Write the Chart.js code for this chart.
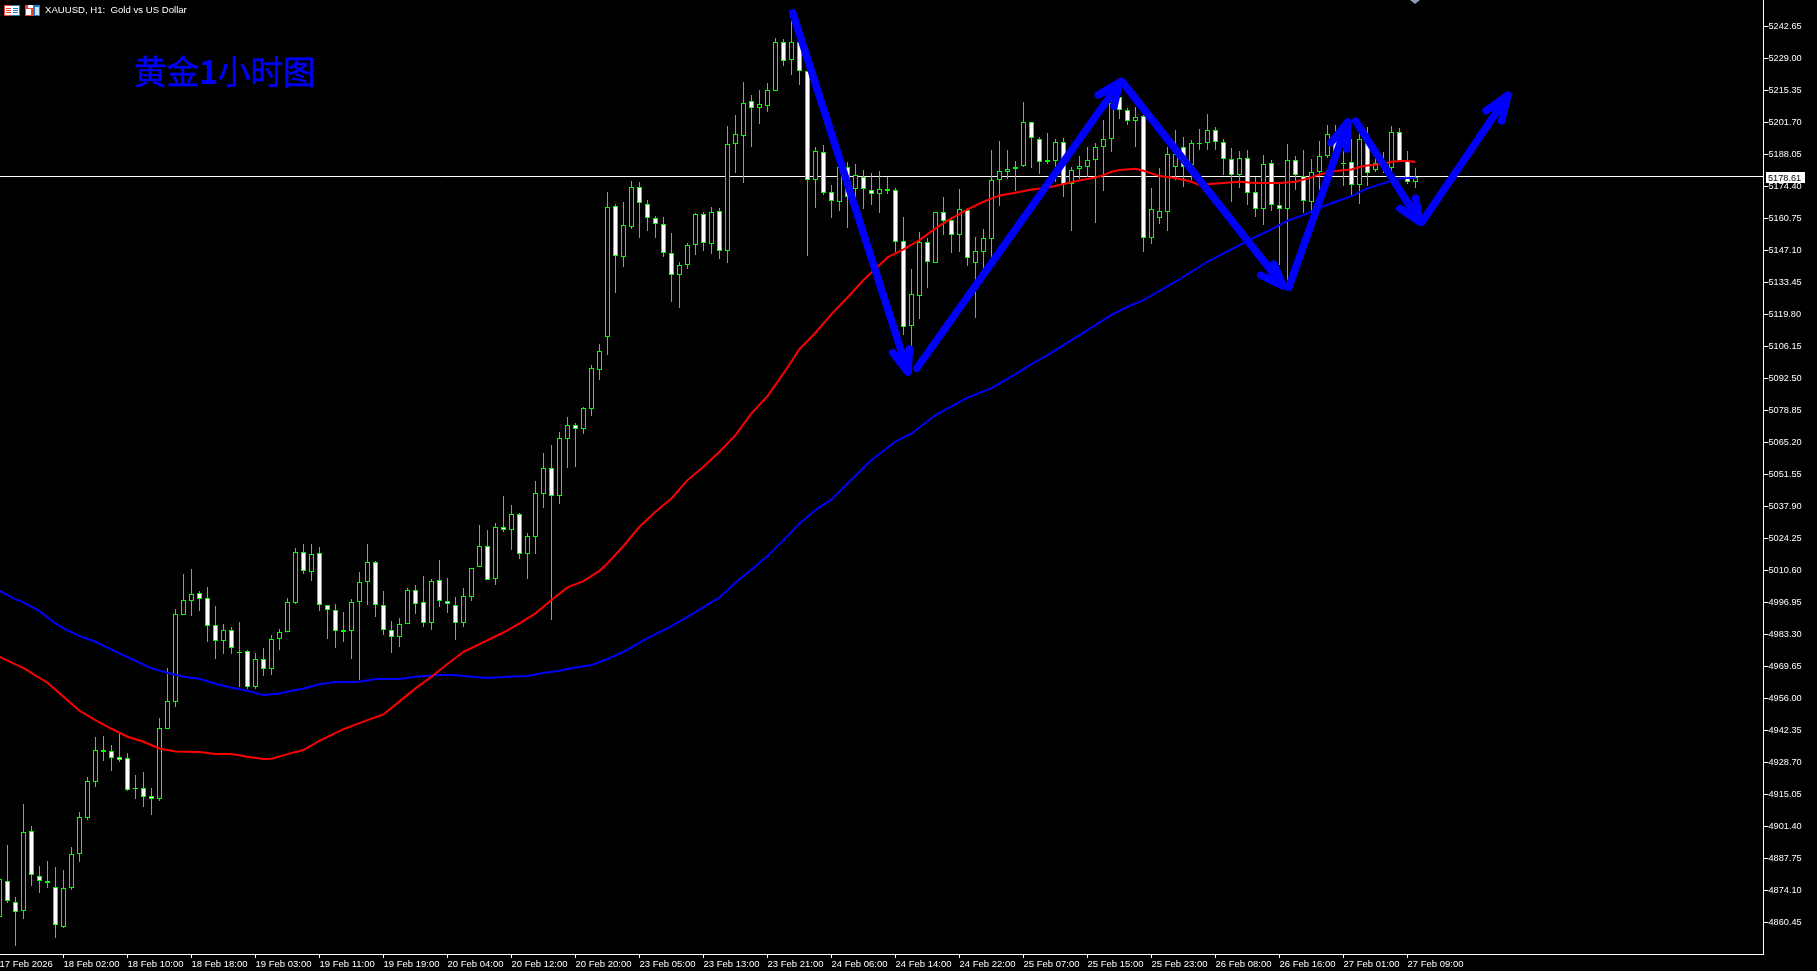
<!DOCTYPE html>
<html>
<head>
<meta charset="utf-8">
<title>XAUUSD H1</title>
<style>
  html, body { margin: 0; padding: 0; background: #000; overflow: hidden; }
  canvas { display: block; }
</style>
<script src="https://cdn.jsdelivr.net/npm/chart.js@4"></script>
</head>
<body>
<canvas id="myChart" width="1817" height="971"></canvas>
<script>
// hourly bars. bar number = position along the x axis
const opens = [
  4862.85,4878.20,4869.24,4865.12,4899.25,4880.33,4878.06,4875.64,4858.58,4875.22,
  4889.72,4905.08,4920.43,4933.80,4933.37,4930.81,4930.39,4917.59,4917.59,4914.18,
  4913.18,4943.04,4954.56,4991.67,4997.64,5000.77,4998.64,4987.12,4980.58,4984.99,
  4975.89,4976.03,4960.96,4972.62,4968.35,4981.43,4984.13,4996.79,5018.26,5010.01,
  5017.84,4995.66,4993.53,4984.99,4984.57,4996.94,5005.47,5014.00,4995.66,4984.99,
  4982.01,4987.55,5002.06,4996.94,4987.98,5006.32,4997.36,4995.66,4987.98,4999.35,
  5011.87,5020.83,5006.75,5028.93,5027.65,5034.48,5017.41,5024.94,5043.28,5054.09,
  5042.43,5066.74,5072.43,5071.01,5079.54,5096.18,5109.97,5165.85,5144.38,5157.18,
  5173.95,5166.70,5160.73,5158.17,5145.80,5136.70,5140.97,5149.21,5162.44,5149.92,
  5163.72,5146.66,5192.30,5195.72,5210.65,5207.66,5208.51,5214.91,5235.81,5228.42,
  5235.81,5223.73,5177.23,5189.17,5171.83,5167.56,5182.49,5173.39,5178.23,5172.68,
  5171.26,5172.54,5172.68,5150.92,5114.95,5127.75,5150.50,5141.82,5163.29,5159.88,
  5153.77,5164.15,5141.82,5146.52,5152.06,5176.95,5180.64,5181.63,5183.05,5201.68,
  5194.43,5184.62,5185.33,5193.15,5175.23,5181.63,5182.49,5185.47,5191.02,5194.43,
  5212.35,5206.80,5202.11,5204.24,5152.20,5160.73,5163.29,5182.49,5191.02,5183.62,
  5192.72,5192.73,5198.28,5193.16,5185.90,5179.36,5186.33,5171.83,5164.58,5184.20,
  5166.28,5164.58,5185.48,5178.94,5167.56,5180.36,5187.18,5196.57,5184.34,5184.62,
  5174.96,5194.15,5181.35,5182.07,5182.07,5197.42,5185.05,5176.09
];
const closes = [
  4878.77,4869.39,4864.69,4898.82,4880.48,4877.92,4877.35,4859.15,4874.93,4889.43,
  4905.22,4920.57,4933.80,4933.23,4930.67,4929.82,4917.02,4917.45,4914.03,4913.18,
  4943.18,4954.70,4991.81,4997.78,5000.34,4998.49,4986.98,4980.29,4984.99,4977.31,
  4975.46,4960.96,4972.62,4968.35,4981.15,4984.13,4996.93,5018.26,5010.15,5017.41,
  4995.66,4993.53,4984.57,4984.42,4996.94,5005.47,5014.00,4995.66,4984.99,4982.01,
  4987.55,5002.06,4996.08,4987.98,5005.90,4997.36,4996.08,4987.98,4999.50,5011.44,
  5020.83,5006.32,5028.93,5027.65,5034.48,5017.41,5025.09,5043.42,5054.09,5042.43,
  5066.89,5072.43,5071.01,5079.68,5096.75,5104.00,5165.42,5144.52,5157.75,5173.95,
  5167.13,5160.73,5158.17,5145.80,5136.42,5140.68,5149.21,5162.44,5150.07,5163.29,
  5146.65,5192.30,5196.57,5209.79,5207.66,5209.37,5215.34,5235.81,5227.71,5235.81,
  5223.73,5176.95,5189.60,5171.68,5168.27,5182.49,5169.98,5179.08,5173.39,5171.26,
  5173.11,5173.11,5150.78,5114.52,5128.32,5150.50,5141.97,5163.29,5159.74,5153.77,
  5164.57,5143.67,5146.66,5152.20,5176.95,5180.78,5181.63,5182.49,5201.68,5194.86,
  5184.62,5185.47,5193.15,5175.38,5181.21,5182.91,5185.47,5191.02,5194.43,5209.79,
  5206.80,5202.11,5203.81,5152.20,5164.57,5163.72,5188.03,5188.17,5182.77,5192.72,
  5192.58,5198.28,5193.16,5185.90,5179.36,5186.33,5171.40,5164.58,5183.77,5166.28,
  5164.58,5185.48,5179.08,5167.99,5180.36,5187.18,5196.57,5189.17,5184.06,5174.81,
  5194.44,5179.93,5184.20,5184.91,5197.42,5185.19,5176.09,5178.61
];
const highs = [
  4881.30,4893.42,4871.09,4910.91,4901.52,4884.46,4886.59,4884.03,4882.75,4892.56,
  4907.49,4922.42,4939.63,4940.05,4936.07,4940.91,4932.52,4923.28,4924.56,4917.73,
  4947.59,4968.92,4993.94,5009.02,5011.15,5001.76,5003.47,4995.51,4987.69,4986.27,
  4988.54,4976.46,4975.32,4977.45,4983.00,4985.56,4998.78,5019.97,5021.81,5021.81,
  5020.54,4995.80,4996.23,4992.81,4998.36,5009.88,5021.82,5014.57,5001.77,4988.98,
  4990.25,5002.91,5004.33,5008.17,5006.89,5015.00,5007.32,4999.21,5003.05,5011.44,
  5029.93,5027.79,5030.78,5042.30,5038.46,5034.90,5026.37,5048.69,5060.63,5064.04,
  5069.59,5075.99,5073.28,5080.25,5098.17,5107.13,5171.96,5166.85,5167.70,5176.66,
  5176.23,5168.55,5161.73,5161.30,5154.47,5142.10,5150.21,5163.01,5163.43,5165.57,
  5165.00,5200.12,5204.82,5218.89,5213.35,5215.48,5218.32,5237.66,5237.24,5244.91,
  5240.00,5224.50,5191.16,5192.02,5174.95,5182.49,5184.77,5183.91,5181.35,5180.07,
  5180.78,5178.51,5173.53,5161.30,5139.12,5154.91,5152.20,5163.44,5169.84,5161.45,
  5173.25,5165.00,5152.77,5156.19,5189.88,5193.72,5189.88,5185.19,5210.36,5201.82,
  5195.43,5197.13,5194.57,5195.00,5182.49,5187.32,5191.16,5192.87,5202.68,5211.00,
  5215.05,5207.65,5208.22,5204.67,5173.67,5182.20,5191.16,5198.41,5195.43,5194.00,
  5198.84,5205.24,5199.70,5194.44,5190.60,5189.46,5189.89,5178.51,5187.61,5185.62,
  5175.67,5192.45,5187.33,5189.89,5186.05,5193.72,5200.55,5200.55,5194.44,5194.44,
  5198.42,5199.70,5189.46,5189.03,5200.12,5199.27,5189.46,5182.07
];
const lows = [
  4861.40,4868.82,4850.47,4861.99,4876.07,4873.08,4875.22,4853.89,4858.15,4874.36,
  4886.31,4904.22,4918.16,4929.39,4925.12,4928.96,4916.59,4913.04,4909.63,4906.36,
  4912.33,4943.04,4952.42,4991.67,4991.10,4993.38,4980.15,4972.90,4975.03,4975.03,
  4960.67,4960.10,4960.10,4965.65,4966.08,4976.74,4984.13,4996.36,5009.16,5006.17,
  4993.38,4981.30,4977.60,4980.02,4972.91,4963.81,4995.80,4990.82,4983.15,4975.47,
  4978.03,4987.55,4991.96,4986.56,4985.28,4995.09,4992.39,4980.87,4986.42,4997.51,
  5011.87,5006.32,5004.33,5026.94,5019.26,5015.42,5006.89,5017.55,5037.17,4989.40,
  5038.87,5054.23,5054.80,5068.73,5076.41,5091.77,5102.43,5128.88,5139.97,5156.18,
  5152.34,5155.33,5152.34,5144.24,5125.04,5122.48,5139.12,5145.09,5146.80,5145.52,
  5143.38,5141.68,5180.07,5175.80,5191.17,5200.98,5206.10,5214.91,5225.72,5222.02,
  5217.75,5144.81,5165.29,5170.83,5161.02,5164.01,5156.75,5169.55,5164.86,5166.57,
  5163.15,5171.26,5146.23,5111.11,5105.99,5117.79,5131.02,5141.54,5153.63,5146.09,
  5146.52,5140.40,5118.36,5138.98,5143.67,5166.00,5177.51,5172.39,5182.63,5182.20,
  5179.64,5183.91,5176.23,5169.83,5155.33,5177.37,5178.22,5158.74,5172.39,5189.03,
  5203.10,5200.54,5191.16,5146.37,5149.78,5158.31,5155.33,5177.08,5174.10,5177.08,
  5189.88,5189.89,5189.89,5179.22,5167.85,5173.68,5166.42,5161.31,5157.89,5163.87,
  5140.83,5133.44,5172.82,5163.01,5162.16,5172.82,5186.33,5184.91,5174.67,5169.84,
  5166.85,5174.53,5180.36,5179.93,5177.09,5185.05,5175.38,5173.68
];

// moving averages, [bar, price]
const redAverage = [
  [0,4973.75],[3,4968.92],[6,4962.66],[8,4956.69],[10,4950.72],[12,4946.74],[14,4943.04],[16,4939.63],
  [18,4937.50],[20,4934.65],[22,4933.37],[25,4933.09],[27,4932.23],[29,4932.23],[31,4931.10],[33,4930.10],
  [34,4930.24],[36,4932.23],[38,4933.94],[40,4937.92],[43,4942.90],[46,4946.74],[48,4949.16],[50,4954.71],
  [52,4960.25],[54,4965.23],[56,4970.63],[58,4975.89],[60,4979.16],[63,4984.10],[65,4987.98],[67,4992.25],
  [69,4997.93],[71,5003.33],[73,5006.04],[75,5010.40],[76,5013.57],[78,5021.00],[80,5029.21],[82,5035.60],
  [84,5041.29],[86,5049.11],[88,5054.80],[90,5061.20],[92,5068.30],[94,5077.55],[96,5084.94],[98,5094.61],
  [100,5104.99],[102,5111.96],[104,5119.92],[106,5127.00],[108,5134.43],[110,5140.83],[111,5144.10],[113,5147.51],
  [115,5151.49],[117,5156.47],[119,5160.74],[121,5164.57],[123,5167.84],[125,5170.55],[127,5171.68],[129,5173.11],
  [131,5173.82],[133,5175.38],[135,5176.95],[137,5178.22],[138,5179.20],[139,5180.64],[140,5181.35],[142,5181.92],
  [143,5181.06],[145,5178.79],[147,5177.94],[149,5176.37],[150,5174.95],[151,5175.30],[153,5175.80],[155,5176.37],
  [157,5175.80],[160,5175.80],[162,5176.37],[164,5178.22],[165,5179.50],[167,5180.93],[169,5181.64],[170,5182.63],
  [171,5183.34],[173,5184.06],[174,5184.91],[175,5185.19],[176,5185.19],[177,5184.77]
];
const blueAverage = [
  [0,5001.91],[2,4998.21],[3,4996.93],[5,4993.23],[7,4987.97],[8,4985.84],[10,4982.57],[12,4980.15],
  [15,4975.17],[17,4972.05],[19,4968.78],[21,4966.93],[23,4965.22],[25,4964.37],[27,4962.24],[29,4960.53],
  [31,4959.25],[33,4957.40],[35,4958.11],[37,4959.53],[38,4960.25],[40,4962.00],[42,4962.95],[45,4963.10],
  [47,4964.23],[50,4964.23],[52,4965.23],[55,4965.94],[57,4965.94],[59,4965.23],[61,4964.66],[63,4965.09],
  [66,4965.51],[68,4966.79],[70,4967.79],[72,4969.21],[74,4970.21],[76,4972.77],[78,4975.89],[81,4981.72],
  [84,4986.84],[87,4992.81],[90,4999.06],[92,5005.32],[94,5011.00],[96,5016.69],[98,5023.52],[100,5030.63],
  [102,5036.31],[104,5040.87],[106,5047.69],[109,5057.65],[112,5065.54],[114,5068.99],[117,5076.85],[121,5084.31],[124,5088.36],
  [127,5094.33],[129,5098.60],[131,5102.44],[133,5106.70],[135,5110.97],[137,5115.24],[139,5119.60],[141,5123.05],
  [143,5125.89],[145,5129.88],[147,5133.72],[149,5137.98],[151,5142.25],[153,5145.80],[155,5149.35],[157,5152.91],
  [159,5156.04],[161,5159.74],[163,5162.15],[165,5165.30],[167,5167.85],[169,5170.26],[171,5173.53],[173,5175.67],
  [175,5177.80],[177,5178.08]
];

// hand drawn arrows: tail, tip, barb, tip, barb as [bar, price]
const arrows = [
  [[99.15,5248.45],[113.56,5095.19],[111.65,5103.42],[113.56,5095.19],[113.75,5105.00]],
  [[114.65,5096.77],[140.06,5218.89],[137.35,5213.35],[140.06,5218.89],[139.31,5208.65]],
  [[140.27,5219.30],[160.48,5131.87],[157.65,5136.56],[160.48,5131.87],[159.31,5141.26]],
  [[161.15,5131.32],[168.52,5201.83],[166.40,5193.00],[168.52,5201.83],[168.40,5190.31]],
  [[169.52,5202.25],[177.56,5159.17],[175.06,5165.02],[177.56,5159.17],[177.02,5169.28]],
  [[177.80,5159.17],[188.56,5213.35],[185.81,5206.65],[188.56,5213.35],[187.77,5202.38]]
];

const currentPrice = 5178.61;
const priceTicks = [
  5242.65,5229.00,5215.35,5201.70,5188.05,5174.40,5160.75,5147.10,5133.45,5119.80,
  5106.15,5092.50,5078.85,5065.20,5051.55,5037.90,5024.25,5010.60,4996.95,4983.30,
  4969.65,4956.00,4942.35,4928.70,4915.05,4901.40,4887.75,4874.10,4860.45
];
const timeTicks = [0,8,16,24,32,40,48,56,64,72,80,88,96,104,112,120,128,136,144,152,160,168,176];
const timeLabels = [
  "17 Feb 2026","18 Feb 02:00","18 Feb 10:00","18 Feb 18:00","19 Feb 03:00","19 Feb 11:00",
  "19 Feb 19:00","20 Feb 04:00","20 Feb 12:00","20 Feb 20:00","23 Feb 05:00","23 Feb 13:00",
  "23 Feb 21:00","24 Feb 06:00","24 Feb 14:00","24 Feb 22:00","25 Feb 07:00","25 Feb 15:00",
  "25 Feb 23:00","26 Feb 08:00","26 Feb 16:00","27 Feb 01:00","27 Feb 09:00"
];

const GREEN = "#00ff00";
const BLUE = "#0000ff";
const RED_ICON = "#e0453a";
const BLUE_ICON = "#1f78c8";

const toPoints = (pairs) => pairs.map((p) => ({ x: p[0], y: p[1] }));

// terminal charts have no anti aliasing, keep bars on whole pixels
const snapBars = {
  id: "snapBars",
  beforeDatasetDraw(chart, args) {
    if (args.meta.type !== "bar") return;
    args.meta.data.forEach((bar) => {
      bar.x = Math.floor(bar.x) + 0.5;
      bar.y = Math.round(bar.y);
      bar.base = Math.round(bar.base);
      if (bar.base === bar.y) bar.base = bar.y + 1;
    });
  },
};

const overlay = {
  id: "overlay",
  afterDraw(chart) {
    const c = chart.ctx;
    c.save();
    // price tag on the axis
    const y = Math.round(chart.scales.y.getPixelForValue(currentPrice));
    c.fillStyle = "#fff";
    c.fillRect(1766, y - 5, 39, 11);
    c.fillStyle = "#000";
    c.font = '9.2px "Liberation Sans"';
    c.textBaseline = "middle";
    c.fillText(currentPrice.toFixed(2), 1768, y + 1);
    // header
    c.fillStyle = "#fff";
    c.font = '9.6px "Liberation Sans"';
    c.fillText("XAUUSD, H1:  Gold vs US Dollar", 45, 10);
    // title, the digit is heavier than the rest
    c.fillStyle = BLUE;
    c.strokeStyle = BLUE;
    c.lineWidth = 0.6;
    c.font = '32.5px "Noto Sans CJK SC"';
    c.fillText("黄金", 134, 72);
    c.strokeText("黄金", 134, 72);
    c.fillText("小时图", 218, 72);
    c.strokeText("小时图", 218, 72);
    c.font = 'bold 32.5px "Noto Sans CJK SC"';
    c.fillText("1", 199, 72);
    // two small toolbar icons
    c.fillStyle = RED_ICON;
    c.fillRect(4, 5, 8, 11);
    c.fillRect(25, 5, 8, 11);
    c.fillStyle = BLUE_ICON;
    c.fillRect(12, 5, 8, 11);
    c.fillRect(33, 5, 7, 11);
    c.fillStyle = "#fff";
    c.fillRect(5, 6, 14, 9);
    c.fillRect(26, 9, 5, 6);
    c.fillRect(28, 5, 5, 3);
    c.fillStyle = "#cfe4f5";
    c.fillRect(35, 7, 4, 8);
    c.fillStyle = RED_ICON;
    c.fillRect(6, 8, 5, 1);
    c.fillRect(6, 10, 5, 1);
    c.fillRect(6, 12, 5, 1);
    c.fillStyle = BLUE_ICON;
    c.fillRect(13, 8, 5, 1);
    c.fillRect(13, 10, 5, 1);
    c.fillRect(13, 12, 5, 1);
    // chart shift marker
    c.fillStyle = "#8e9bb0";
    c.beginPath();
    c.moveTo(1410, 0);
    c.lineTo(1420, 0);
    c.lineTo(1415, 4);
    c.fill();
    c.restore();
  },
};

const ctx = document.getElementById("myChart").getContext("2d");
const myChart = new Chart(ctx, {
  type: "bar",
  data: {
    datasets: [
      {
        type: "line",
        data: [{ x: 0, y: currentPrice }, { x: 221, y: currentPrice }],
        borderColor: "#fff",
        borderWidth: 1,
        pointRadius: 0,
        order: 10,
      },
      {
        label: "wick",
        data: highs.map((h, i) => ({ x: i, y: [lows[i], h] })),
        backgroundColor: GREEN,
        borderWidth: 0,
        barThickness: 1,
        inflateAmount: 0,
        grouped: false,
        order: 9,
      },
      {
        label: "body",
        data: opens.map((o, i) => ({ x: i, y: [o, closes[i]] })),
        backgroundColor: opens.map((o, i) => (closes[i] < o ? "#fff" : "#000")),
        borderColor: GREEN,
        borderWidth: 1,
        borderSkipped: false,
        barThickness: 5,
        inflateAmount: 0,
        grouped: false,
        order: 8,
      },
      {
        type: "line",
        data: toPoints(blueAverage),
        borderColor: BLUE,
        borderWidth: 2,
        pointRadius: 0,
        order: 7,
      },
      {
        type: "line",
        data: toPoints(redAverage),
        borderColor: "#ff0000",
        borderWidth: 2,
        pointRadius: 0,
        order: 6,
      },
      ...arrows.map((a) => ({
        type: "line",
        data: toPoints(a),
        borderColor: BLUE,
        borderWidth: 7.5,
        borderCapStyle: "round",
        borderJoinStyle: "round",
        pointRadius: 0,
        order: 1,
      })),
    ],
  },
  options: {
    responsive: false,
    animation: false,
    events: [],
    layout: { padding: 0 },
    plugins: { legend: { display: false }, tooltip: { enabled: false } },
    scales: {
      x: {
        type: "linear",
        offset: false,
        min: 0.0625,
        max: 220.5,
        afterBuildTicks: (scale) => {
          scale.ticks = timeTicks.map((v) => ({ value: v }));
        },
        afterFit: (scale) => {
          scale.height = 17;
          scale.paddingLeft = 0;
          scale.paddingRight = 0;
        },
        border: { display: true, color: "#fff", width: 1 },
        grid: { offset: false, drawOnChartArea: false, color: "#fff", tickLength: 4 },
        ticks: {
          autoSkip: false,
          maxRotation: 0,
          align: "start",
          padding: 1,
          color: "#fff",
          font: { family: "Liberation Sans", size: 9.5 },
          callback: (value, index) => timeLabels[index],
        },
      },
      y: {
        position: "right",
        min: 4846.96,
        max: 5253.9,
        afterBuildTicks: (scale) => {
          scale.ticks = priceTicks.map((v) => ({ value: v }));
        },
        afterFit: (scale) => {
          scale.width = 53.5;
          scale.paddingTop = 0;
          scale.paddingBottom = 0;
        },
        border: { display: true, color: "#fff", width: 1 },
        grid: { drawOnChartArea: false, color: "#fff", tickLength: 5 },
        ticks: {
          autoSkip: false,
          padding: 0,
          color: "#fff",
          font: { family: "Liberation Sans", size: 9.2 },
          callback: (value) => value.toFixed(2),
        },
      },
    },
  },
  plugins: [snapBars, overlay],
});
</script>
</body>
</html>
